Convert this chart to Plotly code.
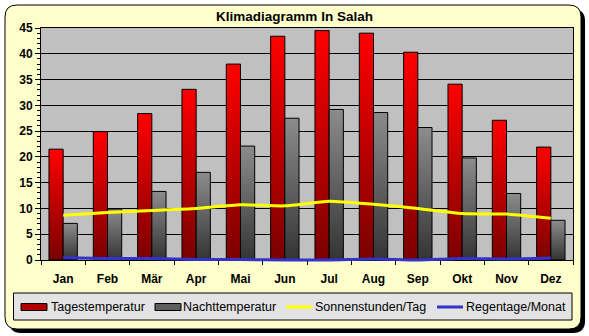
import plotly.graph_objects as go

# Monthly climate values for In Salah
monate = ["Jan", "Feb", "Mär", "Apr", "Mai", "Jun", "Jul", "Aug", "Sep", "Okt", "Nov", "Dez"]
tagestemperatur = [21.5, 24.9, 28.4, 33.1, 38.0, 43.4, 44.5, 44.0, 40.3, 34.1, 27.1, 21.9]
nachttemperatur = [7.1, 9.9, 13.3, 17.0, 22.1, 27.5, 29.2, 28.6, 25.7, 19.8, 12.9, 7.7]
sonnenstunden = [8.7, 9.2, 9.6, 10.0, 10.7, 10.5, 11.4, 10.8, 10.0, 9.0, 8.9, 8.1]
regentage = [0.5, 0.3, 0.3, 0.1, 0.1, 0.0, 0.0, 0.2, 0.0, 0.3, 0.2, 0.4]
y_ticks = [0, 5, 10, 15, 20, 25, 30, 35, 40, 45]

# series styling, shared by the traces and the legend strip
serien = [
    dict(name="Tagestemperatur", kind="bar", color="#B00000"),
    dict(name="Nachttemperatur", kind="bar", color="#5E5E5E"),
    dict(name="Sonnenstunden/Tag", kind="line", color="#FFFF00"),
    dict(name="Regentage/Monat", kind="line", color="#3333CC"),
]

W, H = 589, 336
L, R, T, B = 41, 573, 28, 260  # plot area in pixels
FONT = "Liberation Sans, Arial, sans-serif"


def px(x):
    return (x - L) / (R - L)


def py(y):
    return (B - y) / (B - T)


def rounded_rect(x0, y0, x1, y1, r):
    pts = [
        f"M{px(x0 + r)},{py(y0)}",
        f"L{px(x1 - r)},{py(y0)}",
        f"Q{px(x1)},{py(y0)} {px(x1)},{py(y0 + r)}",
        f"L{px(x1)},{py(y1 - r)}",
        f"Q{px(x1)},{py(y1)} {px(x1 - r)},{py(y1)}",
        f"L{px(x0 + r)},{py(y1)}",
        f"Q{px(x0)},{py(y1)} {px(x0)},{py(y1 - r)}",
        f"L{px(x0)},{py(y0 + r)}",
        f"Q{px(x0)},{py(y0)} {px(x0 + r)},{py(y0)}",
        "Z",
    ]
    return " ".join(pts)


bold = dict(family=FONT, size=12, color="black", weight="bold")

fig = go.Figure()
fig.add_trace(go.Bar(
    x=monate, y=tagestemperatur, name=serien[0]["name"],
    marker=dict(color=serien[0]["color"], line=dict(color="black", width=1)),
))
fig.add_trace(go.Bar(
    x=monate, y=nachttemperatur, name=serien[1]["name"],
    marker=dict(color=serien[1]["color"], line=dict(color="black", width=1)),
))
fig.add_trace(go.Scatter(
    x=monate, y=sonnenstunden, name=serien[2]["name"], mode="lines",
    line=dict(color=serien[2]["color"], width=3, shape="spline", smoothing=0.6),
))
fig.add_trace(go.Scatter(
    x=monate, y=regentage, name=serien[3]["name"], mode="lines", cliponaxis=False,
    line=dict(color=serien[3]["color"], width=3, shape="spline", smoothing=0.6),
))

shapes = [
    # drop shadow of the frame
    dict(type="path", xref="paper", yref="paper", layer="below",
         path=rounded_rect(9, 9, 585, 333, 12), fillcolor="black", line=dict(width=0)),
    # pale yellow frame
    dict(type="path", xref="paper", yref="paper", layer="below",
         path=rounded_rect(5, 5, 581, 329, 12), fillcolor="#FFFFCC",
         line=dict(color="black", width=1)),
    # grey plot area
    dict(type="rect", xref="paper", yref="paper", layer="below",
         x0=0, x1=1, y0=0, y1=1, fillcolor="#C0C0C0", line=dict(width=0)),
    # legend strip
    dict(type="rect", xref="paper", yref="paper", layer="above",
         x0=px(13.5), x1=px(572), y0=py(320), y1=py(293),
         fillcolor="#E3E3E3", line=dict(color="black", width=1)),
]

annotations = []
swatch_x = [21, 155, 286, 437]
text_x = [51, 183, 315, 466]
legend_y = 307
for s, sx, tx in zip(serien, swatch_x, text_x):
    if s["kind"] == "bar":
        shapes.append(dict(type="rect", xref="paper", yref="paper", layer="above",
                           x0=px(sx), x1=px(sx + 26), y0=py(legend_y + 3.5), y1=py(legend_y - 3.5),
                           fillcolor=s["color"], line=dict(color="black", width=1)))
    else:
        shapes.append(dict(type="line", xref="paper", yref="paper", layer="above",
                           x0=px(sx), x1=px(sx + 26), y0=py(legend_y), y1=py(legend_y),
                           line=dict(color=s["color"], width=3)))
    annotations.append(dict(text=s["name"], xref="paper", yref="paper",
                            x=px(tx - 2), y=py(legend_y), xanchor="left", yanchor="middle",
                            showarrow=False, font=dict(family=FONT, size=12.5, color="black")))

fig.update_layout(
    width=W, height=H,
    margin=dict(l=L, r=W - R, t=T, b=H - B, autoexpand=False),
    paper_bgcolor="white",
    plot_bgcolor="rgba(0,0,0,0)",
    barmode="group", bargap=0.36, bargroupgap=0,
    shapes=shapes,
    annotations=annotations,
    showlegend=False,
    title=dict(text="Klimadiagramm In Salah", x=0.5, xref="container",
               y=1 - 16 / H, yref="container", yanchor="middle",
               font=dict(family=FONT, size=13.5, color="black", weight="bold")),
    xaxis=dict(
        showgrid=False, showline=True, linecolor="black", linewidth=1, mirror=True,
        ticks="outside", tickson="boundaries", ticklen=4, tickcolor="black",
        tickfont=bold, ticklabelstandoff=8, layer="below traces",
    ),
    yaxis=dict(
        range=[0, 45], tickvals=y_ticks, showgrid=True, gridcolor="black", gridwidth=1,
        zeroline=False, showline=True, linecolor="black", linewidth=1, mirror=True,
        ticks="outside", ticklen=5, tickcolor="black", tickfont=bold,
        minor=dict(dtick=1, ticks="outside", ticklen=3, tickcolor="black", showgrid=False),
    ),
)

# vertical colour gradients for the bar fills; the rain-day line may spill over the axis
post_js = """
(function(){
  var gd = document.getElementById('{plot_id}');
  function paint(){
    var svg = gd.querySelector('svg.main-svg');
    if(!svg) return;
    var ns = 'http://www.w3.org/2000/svg';
    var defs = svg.querySelector('defs');
    if(!defs){ defs = document.createElementNS(ns, 'defs'); svg.insertBefore(defs, svg.firstChild); }
    var specs = [['gradTag', '#FF0000', '#7A0000'], ['gradNacht', '#8C8C8C', '#343434']];
    specs.forEach(function(s){
      if(document.getElementById(s[0])) return;
      var g = document.createElementNS(ns, 'linearGradient');
      g.setAttribute('id', s[0]);
      g.setAttribute('x1', '0'); g.setAttribute('y1', '0');
      g.setAttribute('x2', '0'); g.setAttribute('y2', '1');
      [[0, s[1]], [1, s[2]]].forEach(function(st){
        var e = document.createElementNS(ns, 'stop');
        e.setAttribute('offset', st[0]);
        e.setAttribute('stop-color', st[1]);
        g.appendChild(e);
      });
      defs.appendChild(g);
    });
    var ids = ['gradTag', 'gradNacht'];
    gd.querySelectorAll('.barlayer .trace').forEach(function(tr, i){
      tr.querySelectorAll('path').forEach(function(p){ p.style.fill = 'url(#' + ids[i] + ')'; });
    });
    gd.querySelectorAll('.scatterlayer .js-line').forEach(function(p){
      var el = p;
      while(el && el.classList && !el.classList.contains('cartesianlayer')){
        el.removeAttribute('clip-path');
        el = el.parentNode;
      }
    });
  }
  paint();
  gd.on('plotly_afterplot', paint);
})();
"""

fig.write_html("out.html", post_script=post_js)
